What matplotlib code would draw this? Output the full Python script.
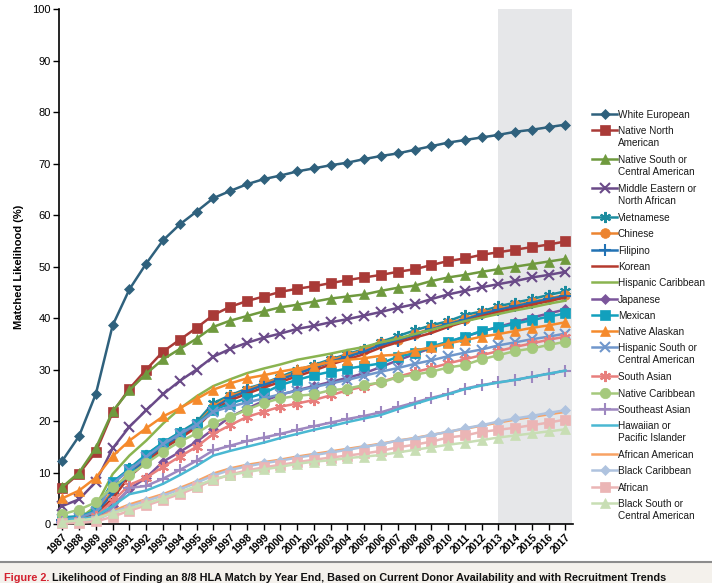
import matplotlib
matplotlib.use("Agg")
import matplotlib.pyplot as plt
from matplotlib.lines import Line2D
from matplotlib.patches import Rectangle

plt.rcParams["font.family"] = ["Liberation Sans", "DejaVu Sans"]

years = list(range(1987, 2018))

white_european = [12.3, 17.1, 25.3, 38.6, 45.6, 50.6, 55.1, 58.2, 60.7, 63.3, 64.7, 66.0, 67.0, 67.7, 68.5,
                  69.1, 69.7, 70.2, 70.9, 71.5, 72.0, 72.7, 73.4, 74.1, 74.6, 75.1, 75.6, 76.2, 76.6, 77.1, 77.6]
native_north_american = [7.0, 9.8, 14.0, 21.7, 26.3, 30.0, 33.5, 35.8, 38.1, 40.6, 42.2, 43.3, 44.2, 45.1, 45.7,
                         46.2, 46.8, 47.4, 47.9, 48.4, 49.0, 49.5, 50.3, 51.1, 51.6, 52.3, 52.8, 53.3, 53.8, 54.3, 54.9]
native_south_central = [7.2, 10.0, 14.8, 21.9, 26.0, 29.2, 32.0, 34.0, 36.0, 38.3, 39.5, 40.4, 41.3, 42.1, 42.6,
                        43.2, 43.8, 44.2, 44.6, 45.3, 45.9, 46.3, 47.2, 47.9, 48.4, 49.0, 49.5, 50.0, 50.5, 51.0, 51.5]
middle_eastern = [3.5, 4.8, 8.2, 14.7, 18.9, 22.1, 25.2, 27.8, 30.0, 32.5, 34.0, 35.2, 36.2, 37.0, 37.9,
                  38.5, 39.2, 39.8, 40.5, 41.2, 42.0, 42.7, 43.7, 44.6, 45.3, 46.0, 46.6, 47.2, 47.9, 48.4, 49.0]
vietnamese = [1.3, 1.5, 2.6, 8.0, 10.8, 13.5, 15.8, 17.8, 19.8, 23.5, 25.0, 26.3, 27.3, 28.6, 29.9,
              30.9, 32.0, 33.0, 34.0, 35.4, 36.5, 37.6, 38.6, 39.4, 40.6, 41.3, 42.3, 43.0, 43.7, 44.5, 45.2]
chinese = [1.0, 1.2, 2.3, 6.5, 10.0, 12.8, 15.3, 17.3, 19.3, 22.8, 24.8, 26.0, 27.3, 28.4, 29.5,
           30.6, 31.8, 32.8, 33.8, 35.1, 35.8, 36.9, 38.0, 39.0, 39.9, 41.0, 41.8, 42.5, 43.2, 43.8, 44.5]
filipino = [0.8, 1.0, 2.0, 6.0, 9.8, 12.5, 15.0, 17.0, 19.0, 22.5, 24.5, 25.8, 27.0, 28.1, 29.2,
            30.3, 31.5, 32.5, 33.5, 34.8, 35.6, 36.7, 37.8, 38.8, 39.7, 40.8, 41.6, 42.3, 43.0, 43.7, 44.3]
korean = [0.6, 0.8, 1.8, 5.0, 9.2, 12.0, 14.6, 16.6, 18.8, 22.0, 24.0, 25.3, 26.5, 27.6, 28.7,
          29.8, 31.0, 32.0, 33.0, 34.3, 35.3, 36.2, 37.1, 38.3, 39.3, 40.4, 41.2, 41.9, 42.6, 43.3, 44.0]
hispanic_caribbean = [0.5, 1.0, 3.5, 9.7, 13.3, 16.2, 19.5, 22.4, 24.8, 26.8, 28.1, 29.3, 30.2, 31.0, 31.9,
                      32.5, 33.1, 33.8, 34.4, 35.3, 36.0, 36.9, 37.7, 38.6, 39.4, 40.1, 40.8, 41.5, 42.1, 42.8, 43.4]
japanese = [0.3, 0.5, 1.2, 3.5, 6.8, 9.0, 12.1, 14.0, 16.0, 18.4, 20.8, 22.4, 23.9, 25.1, 26.0,
            26.8, 27.6, 28.4, 29.3, 30.5, 31.8, 33.0, 34.2, 35.3, 36.4, 37.4, 38.3, 39.2, 40.1, 40.9, 41.7]
mexican = [1.2, 1.4, 2.6, 8.2, 10.6, 13.4, 15.8, 17.6, 19.5, 22.1, 23.4, 24.4, 25.4, 27.0, 28.0,
           28.9, 29.6, 30.2, 30.7, 31.2, 32.5, 33.2, 34.5, 35.4, 36.4, 37.5, 38.2, 38.9, 39.6, 40.3, 40.9]
native_alaskan = [5.0, 6.5, 9.0, 13.2, 16.2, 18.6, 20.9, 22.5, 24.3, 26.1, 27.3, 28.3, 28.9, 29.6, 30.2,
                  30.7, 31.5, 31.9, 32.2, 32.7, 32.9, 33.7, 34.3, 35.1, 35.7, 36.4, 36.9, 37.5, 38.1, 38.6, 39.2]
hispanic_south_central = [0.9, 1.2, 2.4, 7.8, 10.5, 13.0, 15.5, 17.5, 19.3, 21.8, 22.8, 23.6, 24.4, 25.2, 25.9,
                          26.6, 27.3, 28.0, 28.8, 29.6, 30.3, 31.1, 31.8, 32.6, 33.3, 33.9, 34.7, 35.3, 35.9, 36.4, 37.0]
south_asian = [0.5, 0.7, 1.5, 4.4, 7.6, 9.0, 11.1, 13.1, 15.0, 17.5, 19.2, 20.8, 21.8, 22.8, 23.4,
               24.1, 25.0, 26.0, 26.7, 27.6, 28.6, 29.5, 30.3, 31.2, 32.0, 32.8, 33.6, 34.4, 35.1, 35.8, 36.4]
native_caribbean = [1.9, 2.8, 4.2, 7.2, 9.5, 11.8, 14.0, 16.0, 17.6, 19.7, 20.8, 22.2, 23.5, 24.4, 24.9,
                    25.2, 26.0, 26.3, 27.0, 27.5, 28.5, 29.0, 29.6, 30.4, 30.9, 32.0, 32.8, 33.6, 34.1, 34.8, 35.4]
southeast_asian = [0.3, 0.4, 0.8, 3.0, 7.0, 7.4, 8.8, 10.5, 12.3, 14.3, 15.2, 16.1, 16.8, 17.5, 18.3,
                   19.0, 19.7, 20.4, 21.0, 21.7, 22.7, 23.6, 24.5, 25.3, 26.3, 27.0, 27.5, 28.0, 28.6, 29.2, 29.8]
hawaiian_pacific = [0.8, 0.9, 1.5, 3.5, 5.8, 6.5, 7.8, 9.5, 11.3, 13.3, 14.2, 15.0, 15.8, 16.7, 17.5,
                    18.3, 19.0, 19.8, 20.5, 21.2, 22.3, 23.3, 24.3, 25.2, 26.2, 26.9, 27.5, 28.0, 28.6, 29.2, 29.8]
african_american = [0.3, 0.5, 1.0, 2.5, 3.8, 4.8, 5.8, 7.0, 8.3, 9.8, 10.8, 11.5, 12.0, 12.5, 13.1,
                    13.6, 14.1, 14.6, 15.1, 15.6, 16.2, 16.7, 17.3, 17.9, 18.5, 19.1, 19.7, 20.3, 20.8, 21.3, 21.8]
black_caribbean = [0.2, 0.4, 0.8, 2.2, 3.4, 4.5, 5.5, 6.7, 8.0, 9.4, 10.5, 11.2, 11.8, 12.3, 12.9,
                   13.4, 13.9, 14.4, 15.0, 15.5, 16.2, 16.6, 17.3, 17.9, 18.6, 19.2, 19.9, 20.5, 21.0, 21.6, 22.1]
african = [0.1, 0.2, 0.5, 1.4, 2.6, 3.6, 4.7, 5.8, 7.1, 8.5, 9.6, 10.4, 11.0, 11.5, 12.0,
           12.5, 12.9, 13.3, 13.7, 14.2, 14.9, 15.4, 16.0, 16.8, 17.2, 17.9, 18.3, 18.7, 19.2, 19.7, 20.3]
black_south_central = [0.4, 0.7, 1.1, 2.1, 3.0, 4.0, 5.0, 6.2, 7.4, 8.7, 9.5, 10.1, 10.6, 11.1, 11.7,
                       12.1, 12.4, 12.8, 13.1, 13.4, 13.9, 14.4, 14.9, 15.4, 15.8, 16.3, 16.8, 17.2, 17.6, 18.0, 18.4]

asterisk = (6, 2, 0)
# label, values, colour, marker, marker size
series = [
    ("White European", white_european, "#2f617d", "D", 5.5),
    ("Native North\nAmerican", native_north_american, "#a93a37", "s", 6.5),
    ("Native South or\nCentral American", native_south_central, "#6f9a3e", "^", 7.5),
    ("Middle Eastern or\nNorth African", middle_eastern, "#6a4a88", "x", 7),
    ("Vietnamese", vietnamese, "#1c8c9f", asterisk, 8),
    ("Chinese", chinese, "#ec8430", "o", 7),
    ("Filipino", filipino, "#2272b4", "+", 8),
    ("Korean", korean, "#b53a2e", None, 0),
    ("Hispanic Caribbean", hispanic_caribbean, "#8ab450", None, 0),
    ("Japanese", japanese, "#7b559b", "D", 5),
    ("Mexican", mexican, "#12a0bd", "s", 6.5),
    ("Native Alaskan", native_alaskan, "#f58a2c", "^", 7.5),
    ("Hispanic South or\nCentral American", hispanic_south_central, "#7097cc", "x", 7),
    ("South Asian", south_asian, "#e87f7d", asterisk, 8),
    ("Native Caribbean", native_caribbean, "#a5c97c", "o", 7.5),
    ("Southeast Asian", southeast_asian, "#9e88c0", "+", 8),
    ("Hawaiian or\nPacific Islander", hawaiian_pacific, "#4ab8d2", None, 0),
    ("African American", african_american, "#f8a264", None, 0),
    ("Black Caribbean", black_caribbean, "#afc3df", "D", 5.5),
    ("African", african, "#ebb5b5", "s", 6.5),
    ("Black South or\nCentral American", black_south_central, "#c8deb4", "^", 7.5),
]

W, H = 712, 583
fig = plt.figure(figsize=(W / 100, H / 100), dpi=100)
ax = fig.add_axes([59 / W, 1 - 524 / H, (573 - 59) / W, (524 - 9.3) / H])

ax.axvspan(2013, 2017.38, color="#e6e7e9", lw=0, zorder=0)

for label, vals, color, marker, ms in series:
    ax.plot(years, vals, color=color, lw=1.8, marker=marker, markersize=ms,
            markeredgewidth=1.5 if marker in ("x", "+", asterisk) else 0.5,
            markeredgecolor=color, clip_on=False, zorder=3)

ax.set_xlim(1986.8, 2017.45)
ax.set_ylim(0, 100)
ax.set_yticks(range(0, 101, 10))
ax.set_xticks(years)
ax.set_xticklabels([str(y) for y in years], rotation=45, ha="right", rotation_mode="anchor",
                   fontsize=7.5, fontweight="bold")
ax.tick_params(axis="y", labelsize=8, length=4, width=1, direction="out", pad=2)
ax.tick_params(axis="x", length=4, width=1, direction="out", pad=2)
for s in ("top", "right"):
    ax.spines[s].set_visible(False)
for s in ("left", "bottom"):
    ax.spines[s].set_linewidth(1.2)
ax.set_ylabel("Matched Likelihood (%)", fontsize=8, fontweight="bold", labelpad=6)

# legend drawn by hand so the key sits beside the first text line
def fx(px):
    return px / W

def fy(py):
    return 1 - py / H

y = 114
for label, vals, color, marker, ms in series:
    fig.add_artist(Line2D([fx(592), fx(617)], [fy(y), fy(y)], color=color, lw=1.8))
    if marker is not None:
        fig.add_artist(Line2D([fx(604.5)], [fy(y)], color=color, marker=marker, markersize=ms,
                              markeredgewidth=1.5 if marker in ("x", "+", asterisk) else 0.5,
                              markeredgecolor=color))
    lines = label.split("\n")
    for k, line in enumerate(lines):
        fig.text(fx(618), fy(y + 12 * k), line, fontsize=7.2, va="center_baseline", ha="left",
                 color="#1a1a1a")
    y += 16.3 + 12.6 * (len(lines) - 1)

# caption band
fig.add_artist(Rectangle((0, 0), 1, fy(563), transform=fig.transFigure, color="#f4f1ec", lw=0))
fig.add_artist(Line2D([0, 1], [fy(562), fy(562)], color="#8c8c8c", lw=1.5))
t1 = fig.text(fx(4), fy(581), "Figure 2.", color="#d3202e", fontsize=7.8, fontweight="bold",
              va="baseline")
fig.canvas.draw()
bb = t1.get_window_extent()
fig.text(bb.x1 / W, fy(581), " Likelihood of Finding an 8/8 HLA Match by Year End, Based on Current Donor "
         "Availability and with Recruitment Trends", fontsize=7.8, fontweight="bold", va="baseline",
         color="#111111")

fig.savefig("out.png", dpi=100)
